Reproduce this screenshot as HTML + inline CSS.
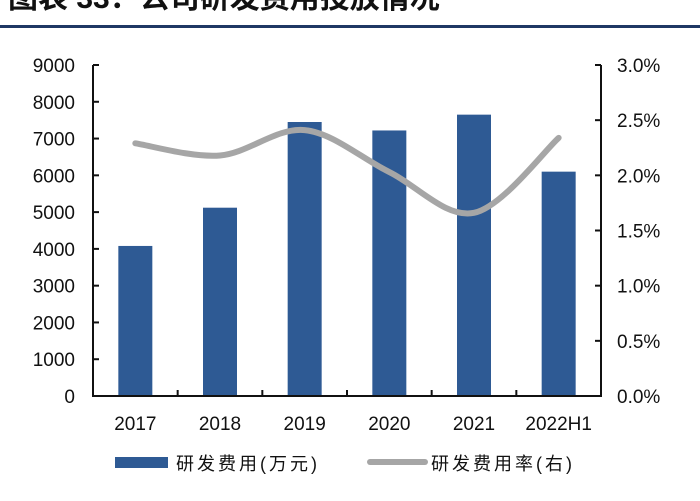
<!DOCTYPE html>
<html><head><meta charset="utf-8"><style>
body{margin:0;background:#fff;width:700px;height:496px;overflow:hidden}
svg text{font-family:"Liberation Sans","Noto Sans CJK SC",sans-serif}
</style></head><body>
<svg id="c" width="700" height="496">
<text x="8" y="8" font-size="30" font-weight="bold" fill="#111">图表 33：公司研发费用投放情况</text>
<rect x="0" y="25" width="700" height="3" fill="#1f3864"/>
<g id="g"></g>
<rect x="115" y="457" width="53" height="11" fill="#2e5a94"/>
<text x="176" y="470" font-size="18" letter-spacing="3" fill="#111">研发费用(万元)</text>
<line x1="370" y1="462" x2="425" y2="462" stroke="#a6a6a6" stroke-width="6" stroke-linecap="round"/>
<text x="431" y="470" font-size="18" letter-spacing="3" fill="#111">研发费用率(右)</text>
</svg>
<script>
const categories=["2017","2018","2019","2020","2021","2022H1"];
const expense=[4080,5120,7450,7220,7650,6100];
const rate=[2.29,2.18,2.41,2.03,1.66,2.34];
const leftTicks=[0,1000,2000,3000,4000,5000,6000,7000,8000,9000];
const rightTicks=["0.0%","0.5%","1.0%","1.5%","2.0%","2.5%","3.0%"];
const NS="http://www.w3.org/2000/svg";
const g=document.getElementById('g');
const X0=93,X1=601,Y0=396,Y1=65;
const cw=(X1-X0)/categories.length;
const xc=i=>X0+cw*(i+0.5);
const yL=v=>Y0-(Y0-Y1)*v/9000;
const yR=v=>Y0-(Y0-Y1)*v/3;
function mk(t,a){const e=document.createElementNS(NS,t);for(const k in a)e.setAttribute(k,a[k]);g.appendChild(e);return e;}
expense.forEach((v,i)=>{
 const r=mk('rect',{x:xc(i)-17,y:yL(v),width:34,height:Y0-yL(v),fill:'#2e5a94'});
 
 
});
const pts=rate.map((v,i)=>[xc(i),yR(v)]);
let d='M'+pts[0][0]+','+pts[0][1];
for(let i=0;i<pts.length-1;i++){
 const p0=pts[i-1]||pts[i],p1=pts[i],p2=pts[i+1],p3=pts[i+2]||p2;
 const c1=[p1[0]+(p2[0]-p0[0])/6,p1[1]+(p2[1]-p0[1])/6];
 const c2=[p2[0]-(p3[0]-p1[0])/6,p2[1]-(p3[1]-p1[1])/6];
 d+=` C${c1[0]},${c1[1]} ${c2[0]},${c2[1]} ${p2[0]},${p2[1]}`;
}
const ln=mk('path',{d:d,fill:'none',stroke:'#a6a6a6','stroke-width':6,'stroke-linecap':'round'});


const ax=mk('path',{d:`M${X0},${Y1} V${Y0} H${X1} V${Y1}`,fill:'none',stroke:'#111','stroke-width':2});


leftTicks.forEach(v=>{
 const y=yL(v);
 const t=mk('line',{x1:X0,y1:y,x2:X0+6,y2:y,stroke:'#111','stroke-width':2});
 
 
 const l=mk('text',{x:X0-18,y:y+7,'font-size':19,'text-anchor':'end',fill:'#111'});
 l.textContent=v;
 
 
});
rightTicks.forEach((s,i)=>{
 const y=yR(i*0.5);
 const t=mk('line',{x1:X1-6,y1:y,x2:X1,y2:y,stroke:'#111','stroke-width':2});
 
 
 const l=mk('text',{x:X1+16,y:y+7,'font-size':19,fill:'#111'});
 l.textContent=s;
 
 
});
categories.forEach((c,i)=>{
 if(i>0){const t=mk('line',{x1:X0+cw*i,y1:Y0,x2:X0+cw*i,y2:Y0-6,stroke:'#111','stroke-width':2});
 
 }
 const l=mk('text',{x:xc(i),y:430,'font-size':19,'text-anchor':'middle',fill:'#111'});
 l.textContent=c;
 
 
});
</script>
</body></html>
